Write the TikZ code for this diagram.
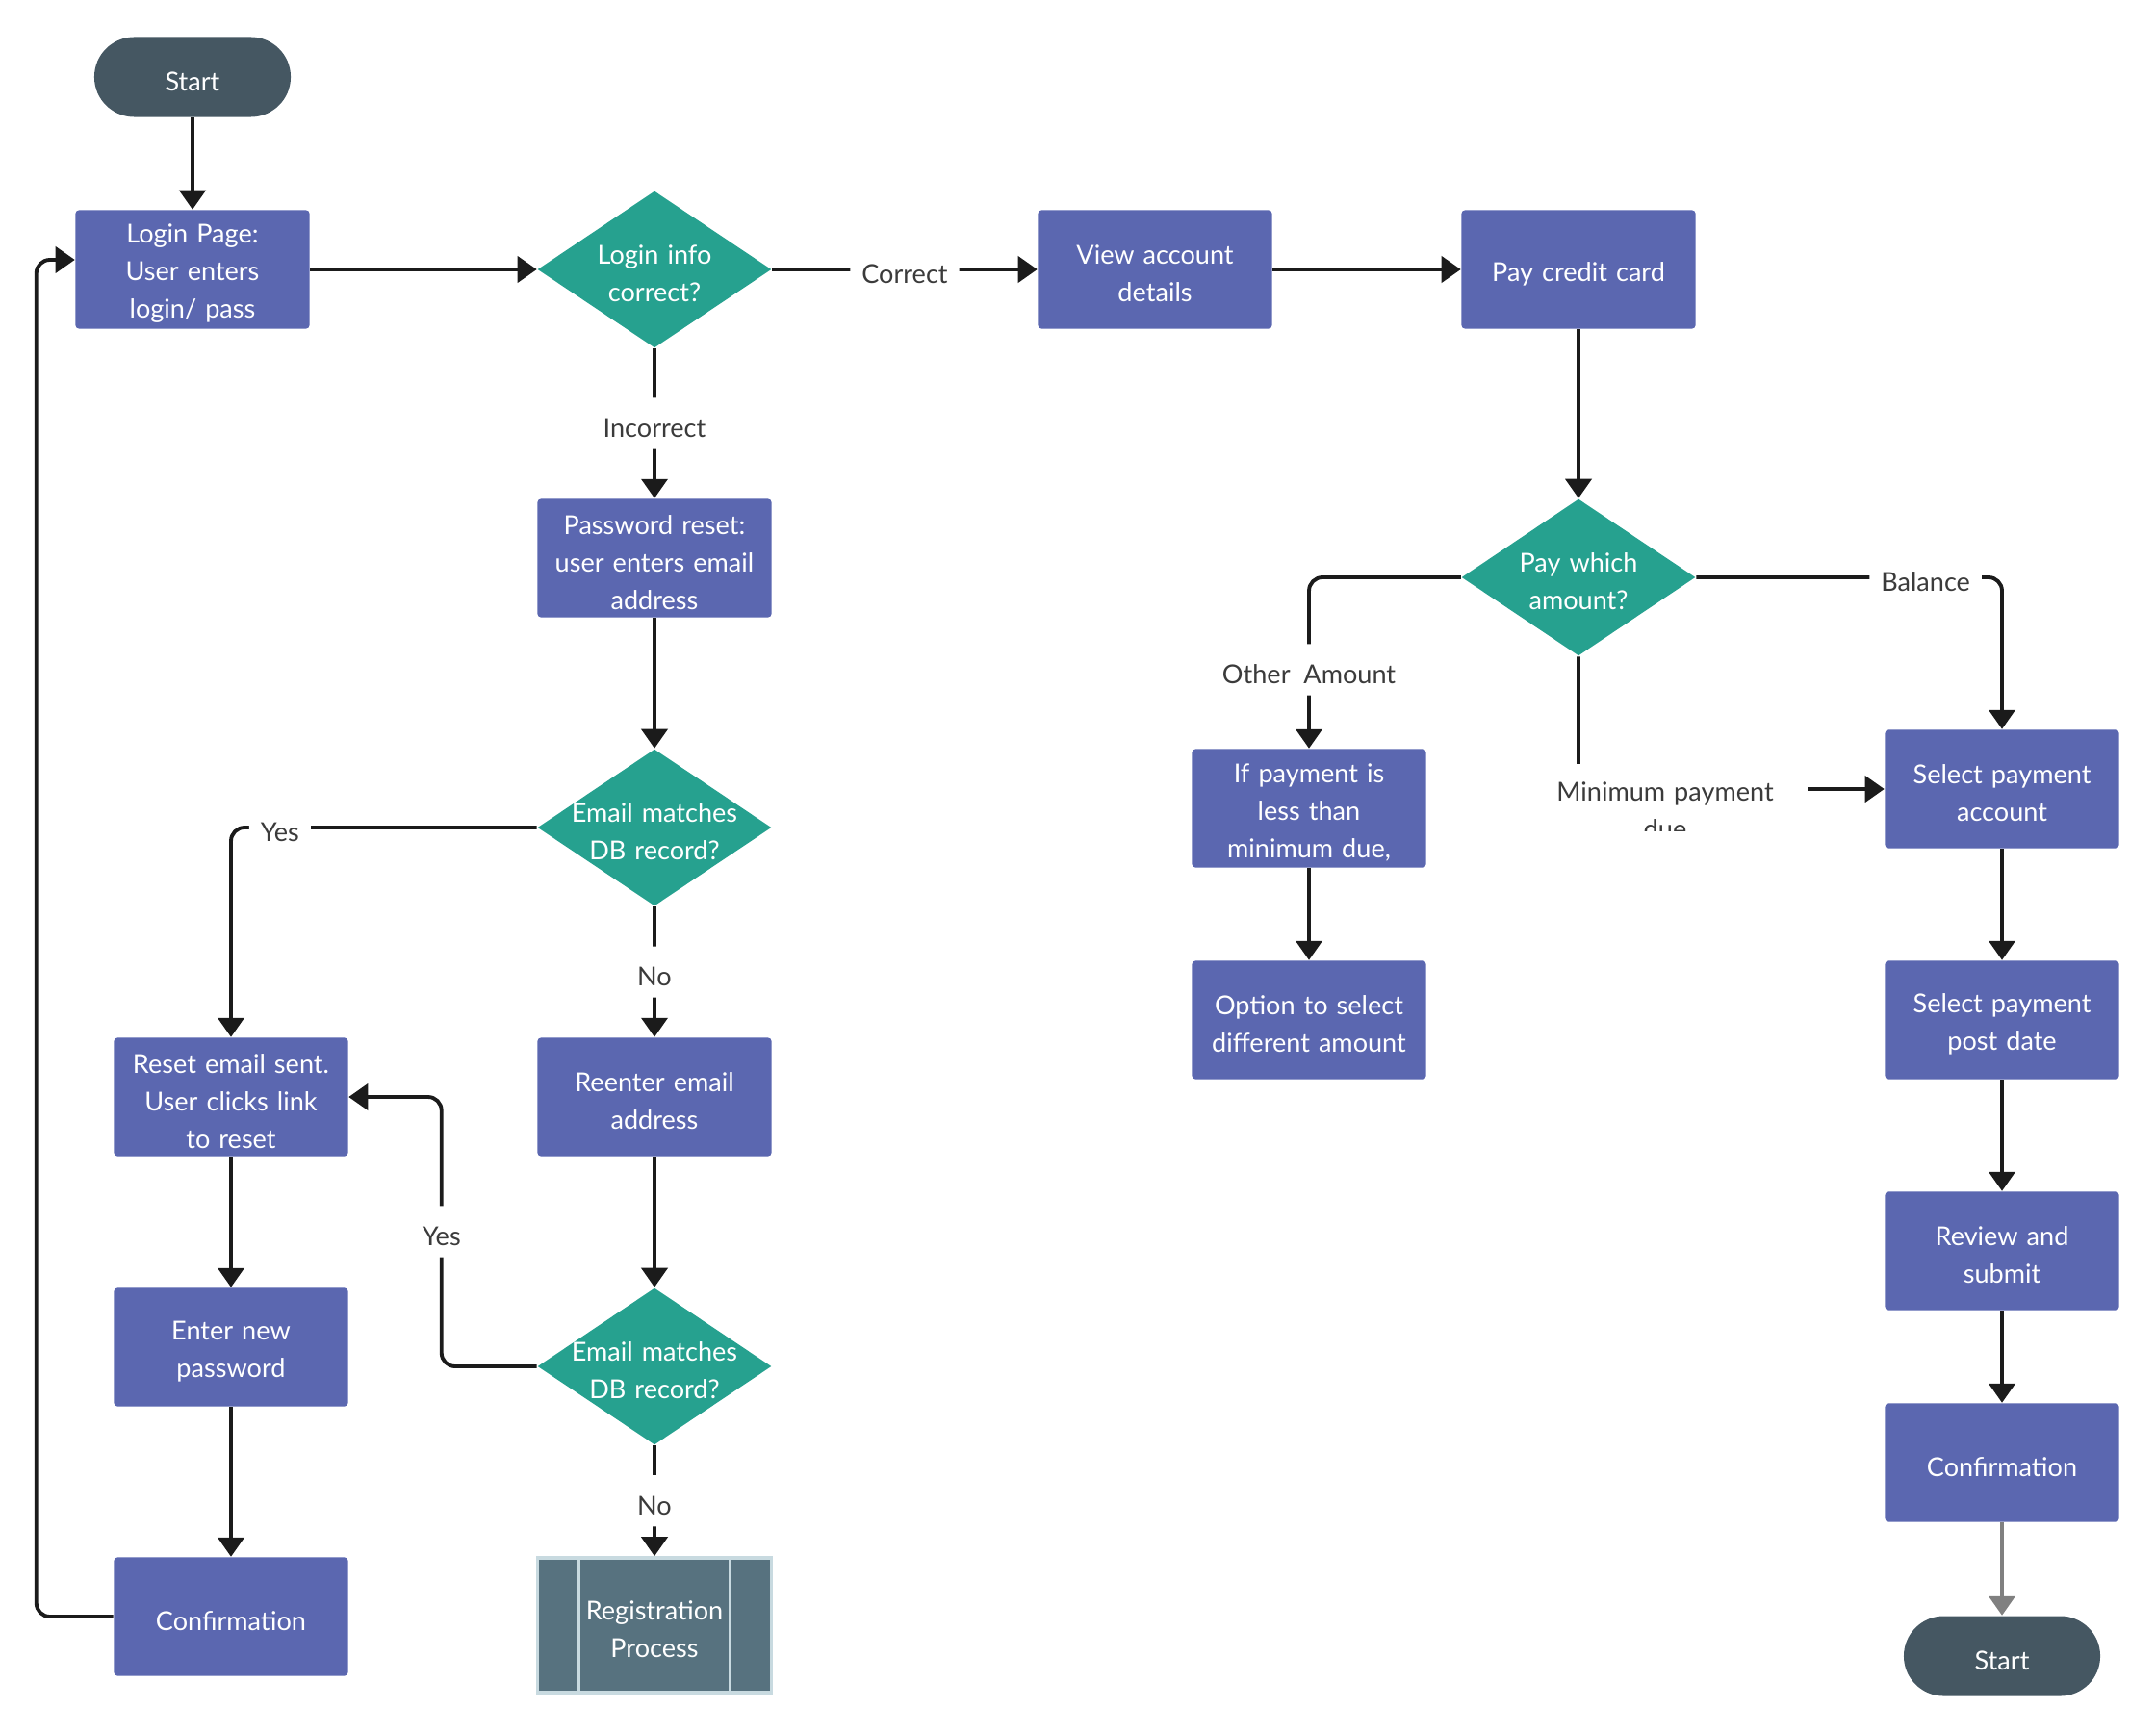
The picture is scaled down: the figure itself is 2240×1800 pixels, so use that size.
\documentclass[tikz,border=0pt]{standalone}
\usepackage{fontspec}
\setmainfont{Lato}
\usetikzlibrary{shapes.geometric,arrows.meta}
\definecolor{boxc}{HTML}{5B67B0}
\definecolor{decc}{HTML}{26A18F}
\definecolor{termc}{HTML}{455762}
\definecolor{regc}{HTML}{57727F}
\definecolor{regl}{HTML}{C8DAE0}
\definecolor{linec}{HTML}{1B1B1B}
\definecolor{lblc}{HTML}{3B3B3B}
\tikzset{
	every node/.style={font=\fontsize{7.7}{11.1}\selectfont,execute at begin node={\rule{0pt}{8.2pt}}},
	proc/.style={rectangle,fill=boxc,text=white,align=center,text width=2.3cm,minimum width=2.43cm,minimum height=1.23cm,rounded corners=1pt,inner sep=0pt},
	dec/.style={diamond,fill=decc,text=white,align=center,text width=1.8cm,inner xsep=-0.5cm,inner ysep=0pt,minimum width=2.43cm,minimum height=1.63cm},
	term/.style={rectangle,rounded corners=0.415cm,fill=termc,text=white,minimum width=2.04cm,minimum height=0.83cm},
	subproc/.style={rectangle,fill=regc,draw=regl,line width=1pt,text=white,align=center,text width=1.6cm,minimum width=2.43cm,minimum height=1.4cm,
		path picture={\draw[regl,line width=1pt] ([xshift=4.3mm]path picture bounding box.north west)--([xshift=4.3mm]path picture bounding box.south west)
			([xshift=-4.3mm]path picture bounding box.north east)--([xshift=-4.3mm]path picture bounding box.south east);}},
	arr/.style={draw=linec,line width=1.1pt,-{Triangle[width=2.7mm,length=2mm]},rounded corners=4pt},
	lbl/.style={fill=white,text=lblc,inner xsep=0.12cm,inner ysep=0.12cm},
}
\begin{document}
\begin{tikzpicture}[x=0.01cm,y=-0.01cm]
	\useasboundingbox (0,0) rectangle (2240,1800);
	\node[term] (start) at (200,80) {Start};
	\node[proc] (login) at (200,280) {Login Page:\\User enters\\login/ pass};
	\node[dec] (qlogin) at (680,280) {Login info\\correct?};
	\node[proc] (view) at (1200,280) {View account\\details};
	\node[proc] (pay) at (1640,280) {Pay credit card};
	\node[proc] (reset) at (680,580) {Password reset:\\user enters email\\address};
	\node[dec] (qmail) at (680,860) {Email matches\\DB record?};
	\node[proc] (sent) at (240,1140) {Reset email sent.\\User clicks link\\to reset};
	\node[proc] (reenter) at (680,1140) {Reenter email\\address};
	\node[proc] (newpw) at (240,1400) {Enter new\\password};
	\node[dec] (qmail2) at (680,1420) {Email matches\\DB record?};
	\node[proc] (conf) at (240,1680) {Confirmation};
	\node[subproc] (reg) at (680,1689) {Registration\\Process};
	\node[dec] (qamt) at (1640,600) {Pay which\\amount?};
	\node[proc] (other) at (1360,840) {If payment is\\less than\\minimum due,};
	\node[proc] (option) at (1360,1060) {Option to select\\different amount};
	\node[proc] (acct) at (2080,820) {Select payment\\account};
	\node[proc] (date) at (2080,1060) {Select payment\\post date};
	\node[proc] (review) at (2080,1300) {Review and\\submit};
	\node[proc] (conf2) at (2080,1520) {Confirmation};
	\node[term] (stop) at (2080,1721) {Start};
	\draw[arr] (start) -- (login);
	\draw[arr] (login) -- (qlogin);
	\draw[arr] (qlogin) -- node[lbl]{Correct} (view);
	\draw[arr] (view) -- (pay);
	\draw[arr] (qlogin) -- node[lbl]{Incorrect} (reset);
	\draw[arr] (reset) -- (qmail);
	\draw[arr] (qmail.west) -| node[lbl,pos=0.42]{Yes} (sent);
	\draw[arr] (qmail) -- node[lbl]{No} (reenter);
	\draw[arr] (reenter) -- (qmail2);
	\draw[arr] (qmail2.west) -- ++(-99,0) |- node[lbl,pos=0.25]{Yes} (sent.east);
	\draw[arr] (qmail2) -- node[lbl]{No} (reg);
	\draw[arr] (sent) -- (newpw);
	\draw[arr] (newpw) -- (conf);
	\draw[arr] (conf.west) -- ++(-80,0) |- ([yshift=1mm]login.west);
	\draw[arr] (pay) -- (qamt);
	\draw[arr] (qamt.west) -| node[lbl,pos=0.77]{Other\ \ Amount} (other);
	\draw[arr] (qamt.east) -| node[lbl,pos=0.375]{Balance} (acct);
	\draw[arr] (qamt) |- (acct);
	\begin{scope}
		\clip (1590,790) rectangle (1900,863);
		\node[lbl,inner xsep=0.08cm,inner ysep=0.1cm,align=center,text width=2.8cm] (minlbl) at (1730,838) {Minimum payment\\due};
	\end{scope}
	\draw[arr] (other) -- (option);
	\draw[arr] (acct) -- (date);
	\draw[arr] (date) -- (review);
	\draw[arr] (review) -- (conf2);
	\draw[arr,draw=gray] (conf2) -- (stop);
\end{tikzpicture}
\end{document}
